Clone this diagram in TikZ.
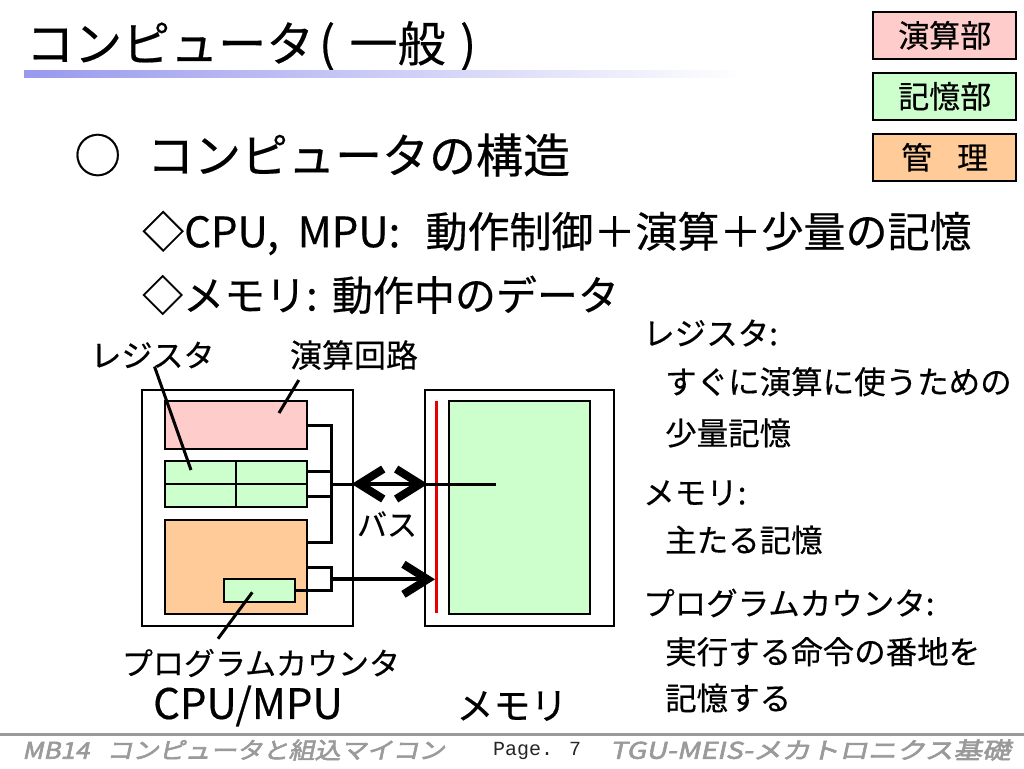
\documentclass[tikz,border=0pt]{standalone}
\usepackage{fontspec}
\setmainfont[FakeBold=0.4]{Noto Sans CJK JP}
\newfontfamily\footfont[FakeSlant=0.22,FakeBold=2.5]{Noto Sans CJK JP}
\newfontfamily\pagefont{Liberation Mono}
\usepackage{tikz}
\usetikzlibrary{arrows.meta,positioning,calc}
\definecolor{alupink}{HTML}{FFCCCC}
\definecolor{memgreen}{HTML}{CCFFCC}
\definecolor{ctrlorange}{HTML}{FFCC99}
\definecolor{barblue}{HTML}{9999EE}
\definecolor{busred}{HTML}{E60000}
\definecolor{footgray}{HTML}{9A9A9A}
\newcommand{\fsz}[1]{\fontsize{#1pt}{#1pt}\selectfont}
\tikzset{
	auto,
	unitbox/.style={
		rectangle, draw=black, line width=2pt, inner sep=0pt
	},
	%
	tagbox/.style={
		rectangle, draw=black, line width=2pt, inner sep=0pt,
		minimum width=143pt, minimum height=47pt, font=\fsz{31}
	},
	%
	busline/.style={
		line width=3pt
	},
	%
	leader/.style={
		line width=3pt
	},
	%
	mytextbox/.style={
		rectangle, inner sep=0pt, anchor=west, font=\fsz{31.5}
	},
	bigbarb/.tip={Straight Barb[length=24pt,width=30pt,line width=8pt]}
}

\begin{document}
\begin{tikzpicture}[x=1pt,y=-1pt]
\useasboundingbox[fill=white] (0,0) rectangle (1024,768);

%title
\node (title) [anchor=west, inner sep=0pt, font=\fsz{48}] at (26,46) {コンピュータ\hspace{0.1em}(\hspace{0.3em}一般\hspace{0.3em})};
\shade[left color=barblue, right color=white] (24,70.5) rectangle (745,77.5);

%tags
\node (tagalu) [tagbox, fill=alupink] at (944.7,35.3) {演算部};
\node (tagmem) [tagbox, fill=memgreen, below=12pt of tagalu] {記憶部};
\node (tagctl) [tagbox, fill=ctrlorange, below=12pt of tagmem] {管\hspace{0.8em}理};

%headings
\node (head) [mytextbox, font=\fsz{47}] at (74,155) {○\hspace{0.55em}コンピュータの構造};
\node (cpuline) [mytextbox, font=\fsz{42}] at (142,233) {◇CPU,\hspace{0.45em}MPU:\hspace{0.6em}動作制御＋演算＋少量の記憶};
\node (memline) [mytextbox, font=\fsz{41}] at (142,295) {◇メモリ:\hspace{0.35em}動作中のデータ};

%notes
\node (regnote) [mytextbox] at (643,333) {レジスタ:};
\node (regtxt1) [mytextbox] at (665,381.7) {すぐに演算に使うための};
\node (regtxt2) [mytextbox] at (665,433) {少量記憶};
\node (memnote) [mytextbox] at (643,493) {メモリ:};
\node (memtxt) [mytextbox] at (665,540) {主たる記憶};
\node (pcnote) [mytextbox] at (643,603) {プログラムカウンタ:};
\node (pctxt1) [mytextbox] at (665,651.7) {実行する命令の番地を};
\node (pctxt2) [mytextbox] at (665,698) {記憶する};

%compartments
\node (cpu) [unitbox, minimum width=211.6pt, minimum height=236pt] at (247.5,508) {};
\node (alu) [unitbox, fill=alupink, minimum width=141.7pt, minimum height=48pt] at (235.8,425) {};
\node (reg) [unitbox, fill=memgreen, minimum width=141.7pt, minimum height=46.6pt] at (235.8,484) {};
\node (ctrl) [unitbox, fill=ctrlorange, minimum width=141.7pt, minimum height=94pt] at (235.8,567) {};
\node (pc) [unitbox, fill=memgreen, minimum width=71.3pt, minimum height=22.7pt] at (259.7,590.3) {};
\draw[line width=2pt] (reg.north) -- (reg.south);
\draw[line width=2pt] (reg.west) -- (reg.east);

\node (mem) [unitbox, minimum width=189pt, minimum height=236pt] at (519.5,508) {};
\node (cells) [unitbox, fill=memgreen, minimum width=141pt, minimum height=213pt] at (519.5,507.5) {};
\coordinate (redtop) at (436.7,401);
\coordinate (redbot) at (436.7,613.3);
\draw[busred, line width=3.5pt] (redtop) -- (redbot);

%labels
\node (reglbl) [inner sep=0pt, font=\fsz{31}] at (152.5,355) {レジスタ};
\node (alulbl) [inner sep=0pt, font=\fsz{32}] at (354,355) {演算回路};
\node (pclbl) [inner sep=0pt, font=\fsz{31}] at (261,663) {プログラムカウンタ};
\node (cpulbl) [inner sep=0pt, font=\fsz{42}] at (248,706) {CPU/MPU};
\node (memlbl) [inner sep=0pt, font=\fsz{37}] at (512,706) {メモリ};
\node (buslbl) [inner sep=0pt, font=\fsz{30}] at (387,524) {バス};

\coordinate (regpt) at (191,470);
\coordinate (alupt) at (279,413);
\coordinate (pcpt) at (252.3,592.3);
\draw[leader] ([xshift=2pt,yshift=2pt]reglbl.south) -- (regpt);
\draw[leader] ([xshift=9pt,yshift=-10pt]alulbl.south west) -- (alupt);
\draw[leader] ([xshift=-43pt,yshift=10pt]pclbl.north) -- (pcpt);

%bus
\coordinate (bustop) at (331,425);
\coordinate (busbot) at (331,542.7);
\coordinate (busmid) at (331,484);
\coordinate (memtap) at (495.7,484);
\coordinate (arrL) at (351.7,484);
\coordinate (arrR) at (427.7,484);
\draw[busline] (alu.east) -- (bustop) -- (busbot) -- (ctrl.east |- busbot);
\draw[busline] ([yshift=13pt]reg.east) -- ([yshift=13pt]reg.east -| busmid);
\draw[busline] ([yshift=-12pt]reg.east) -- ([yshift=-12pt]reg.east -| busmid);
\draw[busline] (busmid) -- (memtap);
\draw[busline, line width=4pt, bigbarb-bigbarb] (arrL) -- (arrR);

\coordinate (pcbend) at (331,567);
\coordinate (pcout) at (331,579.3);
\coordinate (redtap) at (435,579.3);
\draw[busline] (ctrl.east) -- (pcbend) -- (pcbend |- pc.east) -- (pc.east);
\draw[busline, line width=4pt, -bigbarb] (pcout) -- (redtap);

%footer
\draw[footgray, line width=3pt] (0,734.5) -- (1024,734.5);
\node (footleft) [anchor=west, inner sep=0pt, text=footgray, font=\footfont\addfontfeature{FakeStretch=1.13}\fsz{23}] at (22,750) {MB14\ \ \ コンピュータと組込マイコン};
\node (footpage) [anchor=west, inner sep=0pt, text=black!85, font=\pagefont\fsz{20}] at (493,751) {Page. 7};
\node (footright) [anchor=east, inner sep=0pt, text=footgray, font=\footfont\addfontfeature{FakeStretch=1.25}\fsz{23}] at (1011,750) {TGU-MEIS-メカトロニクス基礎};

\end{tikzpicture}
\end{document}
